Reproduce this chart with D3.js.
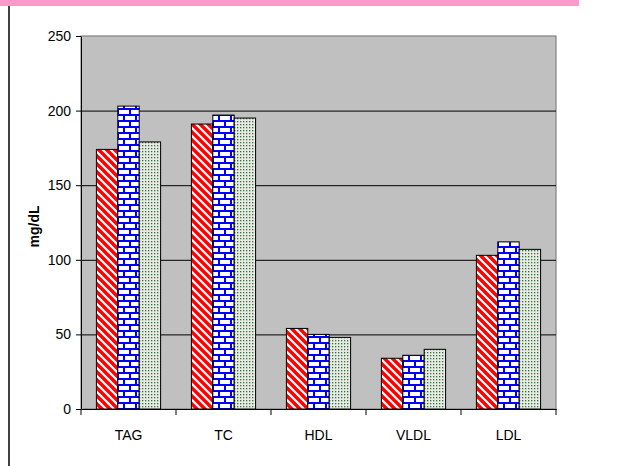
<!DOCTYPE html>
<html>
<head>
<meta charset="utf-8">
<script src="https://cdn.jsdelivr.net/npm/d3@7"></script>
<style>
	body { margin: 0; background: #fff; }
	svg { display: block; }
	.axis text { font-family: "Liberation Sans", Arial, sans-serif; font-size: 14px; fill: #000; }
	.axis path, .axis line { stroke: #000; }
</style>
</head>
<body>
<svg></svg>
<script>
// data
var categories = ["TAG", "TC", "HDL", "VLDL", "LDL"];
var seriesNames = ["s1", "s2", "s3"];
var s1 = [174, 191, 54, 34, 103];
var s2 = [203, 197, 50, 36, 112];
var s3 = [179, 195, 48, 40, 107];
var yTicks = [0, 50, 100, 150, 200, 250];

var draw = function() {

	var margin = { top: 36, right: 74, bottom: 57, left: 81 },
		width = 630 - margin.left - margin.right,
		height = 466 - margin.top - margin.bottom;

	var root = d3.select("svg")
		.attr("width", 630)
		.attr("height", 466);

	// patterns for the bars
	var defs = root.append("defs");

	var p1 = defs.append("pattern")
		.attr("id", "pat-s1")
		.attr("patternUnits", "userSpaceOnUse")
		.attr("width", 8).attr("height", 8);
	p1.append("rect").attr("width", 8).attr("height", 8).attr("fill", "#fff");
	p1.append("path")
		.attr("d", "M-2,-2 L10,10 M-2,6 L2,10 M6,-2 L10,2")
		.attr("stroke", "#ff0000").attr("stroke-width", 3.4);

	var p2 = defs.append("pattern")
		.attr("id", "pat-s2")
		.attr("patternUnits", "userSpaceOnUse")
		.attr("width", 12).attr("height", 12);
	p2.append("rect").attr("width", 12).attr("height", 12).attr("fill", "#fff");
	p2.append("path")
		.attr("d", "M0,1 H12 M0,7 H12 M1,1 V7 M7,7 V13")
		.attr("stroke", "#0000ff").attr("stroke-width", 2).attr("fill", "none");

	var p3 = defs.append("pattern")
		.attr("id", "pat-s3")
		.attr("patternUnits", "userSpaceOnUse")
		.attr("width", 3).attr("height", 3);
	p3.append("rect").attr("width", 3).attr("height", 3).attr("fill", "#e6ebe3");
	p3.append("rect").attr("x", 1).attr("y", 1).attr("width", 1.3).attr("height", 1.3).attr("fill", "#3d6b3d");

	// pink strip and left rule
	root.append("rect")
		.attr("x", 0).attr("y", 0)
		.attr("width", 579).attr("height", 6)
		.attr("fill", "#ff99cc");
	root.append("line")
		.attr("x1", 9).attr("x2", 9)
		.attr("y1", 6).attr("y2", 466)
		.attr("stroke", "#000").attr("stroke-width", 1.5);

	var svg = root.append("g")
		.attr("transform", "translate(" + margin.left + "," + margin.top + ")");

	// scales
	var scaleX = d3.scaleBand()
		.domain(categories)
		.range([0, width]);

	var scaleInner = d3.scaleBand()
		.domain(seriesNames)
		.range([0, scaleX.bandwidth()])
		.paddingOuter(0.72);

	var scaleY = d3.scaleLinear()
		.domain([0, 250])
		.range([height, 0]);

	// plot background
	svg.append("rect")
		.attr("width", width)
		.attr("height", height)
		.attr("fill", "#c0c0c0")
		.attr("stroke", "#808080")
		.attr("stroke-width", 1.2);

	// grid
	svg.selectAll(".grid")
		.data(yTicks.filter(function(d) { return d > 0 && d < 250; }))
		.enter()
		.append("line")
		.attr("class", "grid")
		.attr("x1", 0).attr("x2", width)
		.attr("y1", function(d) { return scaleY(d) + 0.5; })
		.attr("y2", function(d) { return scaleY(d) + 0.5; })
		.attr("stroke", "#000");

	// bars
	var series = [
		{ key: "s1", values: s1 },
		{ key: "s2", values: s2 },
		{ key: "s3", values: s3 }
	];

	var groups = svg.selectAll(".cat")
		.data(categories)
		.enter()
		.append("g")
		.attr("class", "cat")
		.attr("transform", function(d) { return "translate(" + scaleX(d) + ",0)"; });

	groups.selectAll("rect")
		.data(function(d, i) {
			return series.map(function(s) { return { key: s.key, value: s.values[i] }; });
		})
		.enter()
		.append("rect")
		.attr("x", function(d) { return scaleInner(d.key); })
		.attr("y", function(d) { return scaleY(d.value); })
		.attr("width", scaleInner.bandwidth())
		.attr("height", function(d) { return height - scaleY(d.value); })
		.attr("fill", function(d) { return "url(#pat-" + d.key + ")"; })
		.attr("stroke", "#000")
		.attr("stroke-width", 1);

	// Add the X Axis
	var xAxis = svg.append("g")
		.attr("class", "axis")
		.attr("transform", "translate(0," + height + ")")
		.call(d3.axisBottom(scaleX).tickSize(0).tickPadding(21));
	xAxis.selectAll(".sep")
		.data(d3.range(categories.length + 1))
		.enter()
		.append("line")
		.attr("class", "sep")
		.attr("x1", function(i) { return i * scaleX.step(); })
		.attr("x2", function(i) { return i * scaleX.step(); })
		.attr("y1", 0).attr("y2", 6)
		.attr("stroke", "#000");

	// Add the Y Axis
	svg.append("g")
		.attr("class", "axis")
		.call(d3.axisLeft(scaleY).tickValues(yTicks).tickSize(5).tickSizeOuter(0).tickPadding(5));

	// y title
	svg.append("text")
		.attr("transform", "translate(" + (34 - margin.left) + "," + (height / 2 + 4) + ") rotate(-90)")
		.attr("text-anchor", "middle")
		.attr("dy", "0.35em")
		.style("font-family", "'Liberation Sans', Arial, sans-serif")
		.style("font-size", "14px")
		.style("font-weight", "bold")
		.text("mg/dL");
};

draw();
</script>
</body>
</html>
